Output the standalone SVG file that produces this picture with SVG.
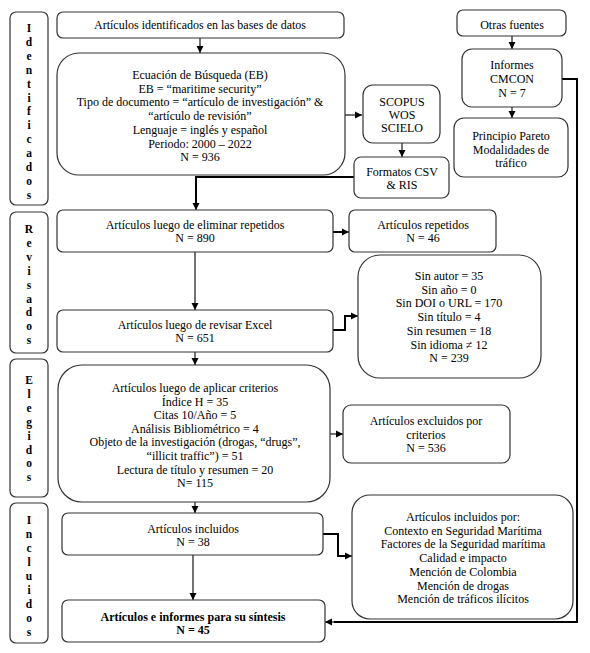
<svg xmlns="http://www.w3.org/2000/svg" width="590" height="653" viewBox="0 0 590 653">
<style>
.b{fill:#fff;stroke:#333;stroke-width:1.2}
text{font-family:"Liberation Serif","Times New Roman",serif;font-size:12px;fill:#000;text-anchor:middle}
.lab{font-weight:bold;font-size:11.5px}
.bold{font-weight:bold}
.c{fill:none;stroke:#000;stroke-width:1.1}
.ct{fill:none;stroke:#000;stroke-width:2}
</style>
<defs>
<marker id="ah" markerUnits="userSpaceOnUse" markerWidth="8" markerHeight="8" refX="7" refY="4" orient="auto">
<path d="M0,0.5 L7,4 L0,7.5 Z" fill="#000"/>
</marker>
</defs>
<rect width="590" height="653" fill="#fff"/>

<g id="stage-identificados">
<rect class="b" x="10" y="12" width="38" height="193" rx="6"/>
<text class="lab"><tspan x="29" y="32">I</tspan><tspan x="29" dy="13.9">d</tspan><tspan x="29" dy="13.9">e</tspan><tspan x="29" dy="13.9">n</tspan><tspan x="29" dy="13.9">t</tspan><tspan x="29" dy="13.9">i</tspan><tspan x="29" dy="13.9">f</tspan><tspan x="29" dy="13.9">i</tspan><tspan x="29" dy="13.9">c</tspan><tspan x="29" dy="13.9">a</tspan><tspan x="29" dy="13.9">d</tspan><tspan x="29" dy="13.9">o</tspan><tspan x="29" dy="13.9">s</tspan></text>
</g>
<g id="stage-revisados">
<rect class="b" x="10" y="212" width="38" height="141" rx="6"/>
<text class="lab"><tspan x="29" y="233">R</tspan><tspan x="29" dy="13.9">e</tspan><tspan x="29" dy="13.9">v</tspan><tspan x="29" dy="13.9">i</tspan><tspan x="29" dy="13.9">s</tspan><tspan x="29" dy="13.9">a</tspan><tspan x="29" dy="13.9">d</tspan><tspan x="29" dy="13.9">o</tspan><tspan x="29" dy="13.9">s</tspan></text>
</g>
<g id="stage-elegidos">
<rect class="b" x="10" y="359" width="38" height="138" rx="6"/>
<text class="lab"><tspan x="29" y="384">E</tspan><tspan x="29" dy="13.9">l</tspan><tspan x="29" dy="13.9">e</tspan><tspan x="29" dy="13.9">g</tspan><tspan x="29" dy="13.9">i</tspan><tspan x="29" dy="13.9">d</tspan><tspan x="29" dy="13.9">o</tspan><tspan x="29" dy="13.9">s</tspan></text>
</g>
<g id="stage-incluidos">
<rect class="b" x="10" y="503" width="38" height="140" rx="6"/>
<text class="lab"><tspan x="29" y="524">I</tspan><tspan x="29" dy="14">n</tspan><tspan x="29" dy="14">c</tspan><tspan x="29" dy="14">l</tspan><tspan x="29" dy="14">u</tspan><tspan x="29" dy="14">i</tspan><tspan x="29" dy="14">d</tspan><tspan x="29" dy="14">o</tspan><tspan x="29" dy="14">s</tspan></text>
</g>

<g id="connectors">
<line class="c" x1="200" y1="38" x2="200" y2="53" marker-end="url(#ah)"/>
<line class="c" x1="345" y1="115" x2="362" y2="115" marker-end="url(#ah)"/>
<line class="c" x1="402" y1="143" x2="402" y2="157" marker-end="url(#ah)"/>
<polyline class="ct" points="354,177 196,177 196,204"/>
<line class="c" x1="196" y1="200" x2="196" y2="210" marker-end="url(#ah)"/>
<line class="c" x1="195" y1="252" x2="195" y2="310" marker-end="url(#ah)"/>
<polyline class="ct" points="333,232 342,232"/>
<line class="c" x1="340" y1="232" x2="349" y2="232" marker-end="url(#ah)"/>
<polyline class="ct" points="333,330 345,330 345,316 352,316"/>
<line class="c" x1="350" y1="316" x2="358" y2="316" marker-end="url(#ah)"/>
<line class="c" x1="195" y1="352" x2="195" y2="365" marker-end="url(#ah)"/>
<line class="c" x1="330" y1="434" x2="343" y2="434" marker-end="url(#ah)"/>
<line class="c" x1="195" y1="502" x2="195" y2="513" marker-end="url(#ah)"/>
<line class="c" x1="193" y1="555" x2="193" y2="600" marker-end="url(#ah)"/>
<polyline class="ct" points="323,534 338,534 338,556 345,556"/>
<line class="c" x1="343" y1="556" x2="352" y2="556" marker-end="url(#ah)"/>
<line class="c" x1="512" y1="36" x2="512" y2="49" marker-end="url(#ah)"/>
<line class="c" x1="512" y1="107" x2="512" y2="118" marker-end="url(#ah)"/>
<polyline class="ct" points="562,79 577,79 577,622 334,622"/>
<line class="c" x1="336" y1="622" x2="325" y2="622" marker-end="url(#ah)"/>
</g>

<g id="n-identificados">
<rect class="b" x="57" y="12" width="287" height="26" rx="6"/>
<text x="200" y="29">Artículos identificados en las bases de datos</text>
</g>
<g id="n-ecuacion">
<rect class="b" x="57" y="53" width="288" height="122" rx="22"/>
<text x="200" y="79">Ecuación de Búsqueda (EB)</text>
<text x="200" y="92.7">EB = “maritime security”</text>
<text x="200" y="106.4">Tipo de documento = “artículo de investigación” &amp;</text>
<text x="200" y="120.1">“artículo de revisión”</text>
<text x="200" y="133.8">Lenguaje = inglés y español</text>
<text x="200" y="147.5">Periodo: 2000 – 2022</text>
<text x="200" y="161.2">N = 936</text>
</g>
<g id="n-scopus">
<rect class="b" x="363" y="85" width="77" height="58" rx="10"/>
<text x="402" y="106">SCOPUS</text>
<text x="402" y="119">WOS</text>
<text x="402" y="132">SCIELO</text>
</g>
<g id="n-formatos">
<rect class="b" x="354" y="157" width="95" height="41" rx="7"/>
<text x="402" y="176">Formatos CSV</text>
<text x="402" y="189">&amp; RIS</text>
</g>
<g id="n-otras">
<rect class="b" x="457" y="10" width="109" height="26" rx="6"/>
<text x="512" y="29">Otras fuentes</text>
</g>
<g id="n-informes">
<rect class="b" x="462" y="49" width="100" height="58" rx="10"/>
<text x="512" y="69">Informes</text>
<text x="512" y="83">CMCON</text>
<text x="512" y="97">N = 7</text>
</g>
<g id="n-principio">
<rect class="b" x="454" y="118" width="114" height="59" rx="10"/>
<text x="511" y="140">Principio Pareto</text>
<text x="511" y="154">Modalidades de</text>
<text x="511" y="167">tráfico</text>
</g>
<g id="n-eliminar">
<rect class="b" x="57" y="210" width="276" height="42" rx="6"/>
<text x="195" y="229">Artículos luego de eliminar repetidos</text>
<text x="195" y="242">N = 890</text>
</g>
<g id="n-repetidos">
<rect class="b" x="349" y="210" width="147" height="42" rx="6"/>
<text x="423" y="229">Artículos repetidos</text>
<text x="423" y="242">N = 46</text>
</g>
<g id="n-excel">
<rect class="b" x="57" y="310" width="276" height="42" rx="6"/>
<text x="195" y="329">Artículos luego de revisar Excel</text>
<text x="195" y="342">N = 651</text>
</g>
<g id="n-sin">
<rect class="b" x="358" y="255" width="183" height="123" rx="22"/>
<text x="449" y="280">Sin autor = 35</text>
<text x="449" y="293.7">Sin año = 0</text>
<text x="449" y="307.4">Sin DOI o URL = 170</text>
<text x="449" y="321.1">Sin título = 4</text>
<text x="449" y="334.8">Sin resumen = 18</text>
<text x="449" y="348.5">Sin idioma ≠ 12</text>
<text x="449" y="362.2">N = 239</text>
</g>
<g id="n-criterios">
<rect class="b" x="58" y="365" width="272" height="137" rx="24"/>
<text x="195" y="392">Artículos luego de aplicar criterios</text>
<text x="195" y="405.6">Índice H = 35</text>
<text x="195" y="419.2">Citas 10/Año = 5</text>
<text x="195" y="432.8">Análisis Bibliométrico = 4</text>
<text x="195" y="446.4">Objeto de la investigación (drogas, “drugs”,</text>
<text x="195" y="460">“illicit traffic”) = 51</text>
<text x="195" y="473.6">Lectura de título y resumen = 20</text>
<text x="195" y="487.2">N= 115</text>
</g>
<g id="n-excluidos">
<rect class="b" x="343" y="405" width="167" height="58" rx="8"/>
<text x="426" y="425">Artículos excluidos por</text>
<text x="426" y="439">criterios</text>
<text x="426" y="452">N = 536</text>
</g>
<g id="n-incluidos">
<rect class="b" x="62" y="513" width="261" height="42" rx="6"/>
<text x="193" y="533">Artículos incluidos</text>
<text x="193" y="546">N = 38</text>
</g>
<g id="n-incluidos-por">
<rect class="b" x="352" y="495" width="221" height="124" rx="18"/>
<text x="463" y="521">Artículos incluidos por:</text>
<text x="463" y="534.7">Contexto en Seguridad Marítima</text>
<text x="463" y="548.4">Factores de la Seguridad marítima</text>
<text x="463" y="562.1">Calidad e impacto</text>
<text x="463" y="575.8">Mención de Colombia</text>
<text x="463" y="589.5">Mención de drogas</text>
<text x="463" y="603.2">Mención de tráficos ilícitos</text>
</g>
<g id="n-sintesis">
<rect class="b" x="62" y="600" width="263" height="42" rx="6"/>
<text class="bold" x="193" y="621">Artículos e informes para su síntesis</text>
<text class="bold" x="193" y="634">N = 45</text>
</g>
</svg>
